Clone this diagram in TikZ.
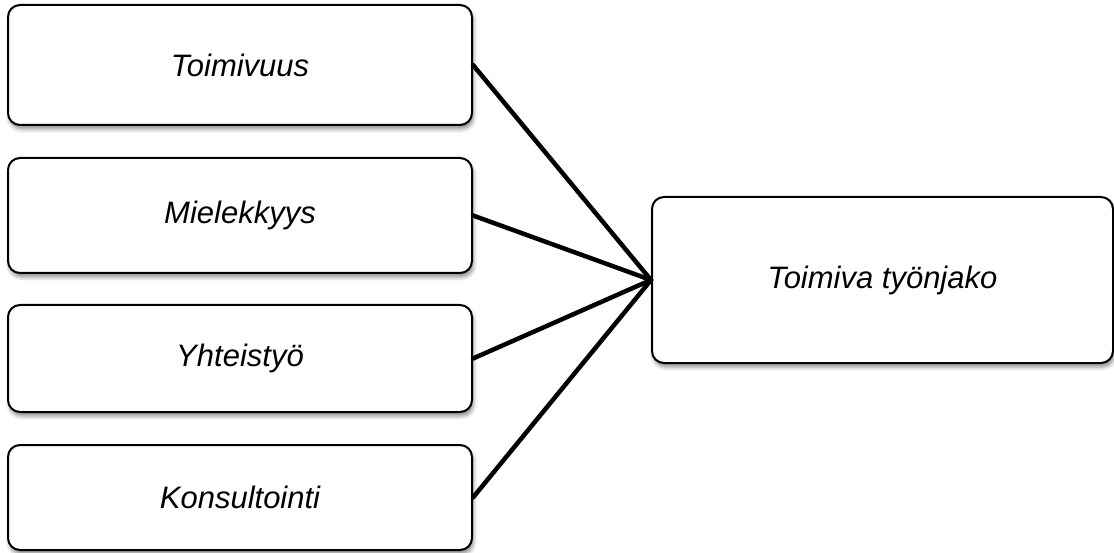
\documentclass[tikz,border=0pt]{standalone}
\usepackage{fontspec}
\setmainfont{Liberation Sans}
\usetikzlibrary{shadows.blur}
\begin{document}
\begin{tikzpicture}[x=1pt,y=-1pt,
  box/.style={draw=black,line width=2pt,rounded corners=12pt,fill=white,
    inner sep=0pt,font=\fontsize{31}{36}\selectfont\itshape,
    blur shadow={shadow xshift=1.5pt,shadow yshift=-4pt,shadow blur radius=4pt,shadow opacity=45}},
  link/.style={line width=4.5pt,line cap=round}]
\useasboundingbox (0,0) rectangle (1114,553);
\node[box,minimum width=464pt,minimum height=120pt] (b1) at (240,65) {Toimivuus};
\node[box,minimum width=464pt,minimum height=115pt] (b2) at (240,215.5) {Mielekkyys};
\node[box,minimum width=464pt,minimum height=107pt] (b3) at (240,358.5) {Yhteistyö};
\node[box,minimum width=464pt,minimum height=105pt] (b4) at (240,497.5) {Konsultointi};
\node[box,minimum width=461pt,minimum height=166pt] (r) at (882.5,280) {Toimiva työnjako};
\foreach \b in {b1,b2,b3,b4} \draw[link] (\b.east) -- (r.west);
\end{tikzpicture}
\end{document}
